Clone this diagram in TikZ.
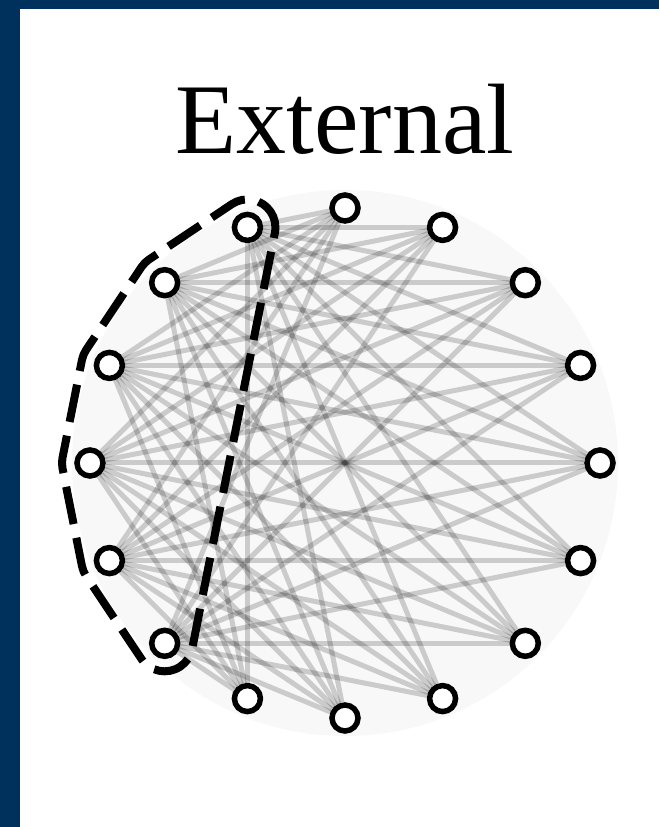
\documentclass[tikz,border=0pt]{standalone}
\usepackage{fontspec}
\setmainfont{Liberation Serif}
\definecolor{framenavy}{RGB}{0, 48, 92}
\definecolor{discgray}{RGB}{248, 248, 248}
\usetikzlibrary{calc}
\tikzset{
    vertex/.style={circle, draw=black, line width=5.5pt, fill=white, minimum size=26pt, inner sep=0pt},
    link/.style={black, opacity=0.18, line width=5pt},
    groupline/.style={black, line width=8pt, dash pattern=on 38pt off 14pt}
}

\begin{document}
\begin{tikzpicture}[x=1pt, y=1pt]
    \useasboundingbox (-345,-364) rectangle (314,463);
    \fill[framenavy] (-345,-364) rectangle (314,463);
    \fill[white] (-325,-364) rectangle (314,454);
    \node[anchor=base, font=\fontsize{100}{100}\selectfont] (title) at (0,309) {External};
    \fill[discgray] (0,0) circle (273);
    \foreach \k in {0,...,15}
        \node[vertex] (n\k) at (\k*22.5:255) {};
    \foreach \i in {5,...,10}
        \foreach \j in {11,...,15,0,1,2,3,4}
            \draw[link] (n\i) -- (n\j);
    \draw[groupline] ($(n5)+(-11.25:28)$) arc[start angle=-11.25, end angle=123.75, radius=28]
        -- ($(n6)+(123.75:28)$) arc[start angle=123.75, end angle=146.25, radius=28]
        -- ($(n7)+(146.25:28)$) arc[start angle=146.25, end angle=168.75, radius=28]
        -- ($(n8)+(168.75:28)$) arc[start angle=168.75, end angle=191.25, radius=28]
        -- ($(n9)+(191.25:28)$) arc[start angle=191.25, end angle=213.75, radius=28]
        -- ($(n10)+(213.75:28)$) arc[start angle=213.75, end angle=348.75, radius=28]
        -- cycle;
\end{tikzpicture}
\end{document}
